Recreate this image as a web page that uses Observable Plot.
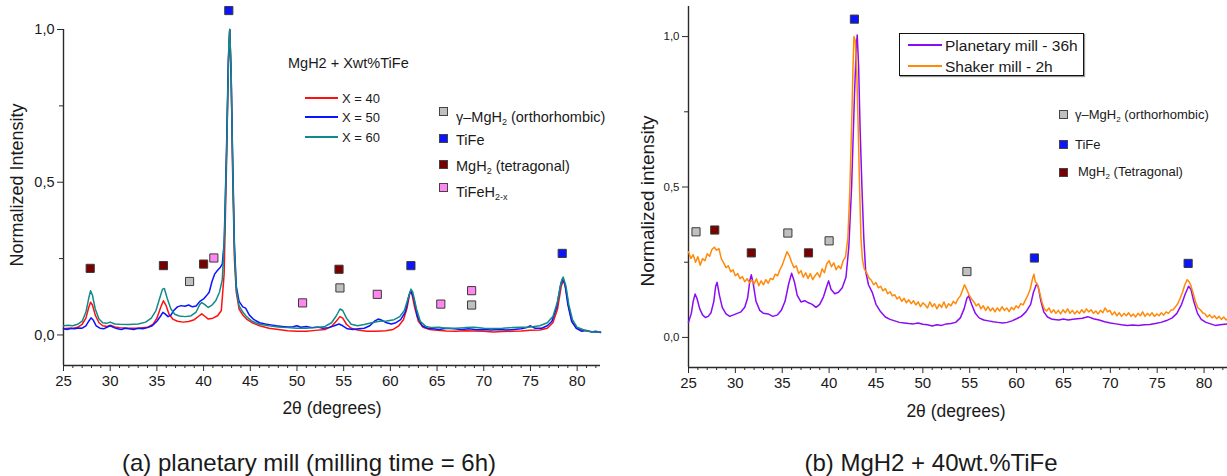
<!DOCTYPE html>
<html>
<head>
<meta charset="utf-8">
<script src="https://cdn.jsdelivr.net/npm/d3@7"></script>
<script src="https://cdn.jsdelivr.net/npm/@observablehq/plot@0.6"></script>
<style>
  body { margin: 0; background: #fff; }
  #wrap { position: relative; width: 1227px; height: 476px; overflow: hidden; font-family: "Liberation Sans", Arial, sans-serif; color: #1a1a1a; }
  .abs { position: absolute; white-space: nowrap; line-height: 1; }
  .sq { position: absolute; width: 7px; height: 7px; border: 1px solid #444; }
  .ln { position: absolute; height: 2px; }
  sub { font-size: 0.62em; vertical-align: -0.35em; line-height: 0; }
</style>
</head>
<body>
<div id="wrap">
  <div id="a" style="position:absolute;left:0;top:0"></div>
  <div id="b" style="position:absolute;left:614px;top:0"></div>
</div>
<script>
// ---------- tick values ----------
const majorX = [25, 30, 35, 40, 45, 50, 55, 60, 65, 70, 75, 80];
const minorX = [26,27,28,29,31,32,33,34,36,37,38,39,41,42,43,44,46,47,48,49,51,52,53,54,56,57,58,59,61,62,63,64,66,67,68,69,71,72,73,74,76,77,78,79,81,82];
const majorY = [0, 0.5, 1.0];
const minorY = [0.25, 0.75];

// ---------- panel (a): MgH2 + X wt% TiFe, planetary mill 6h ----------
const red40 = [[25,0.020],[25.5,0.022],[26,0.021],[26.5,0.025],[27,0.035],[27.4,0.055],[27.7,0.090],[27.9,0.107],[28.1,0.098],[28.4,0.065],[28.8,0.040],[29.2,0.030],[29.7,0.028],[30,0.032],[30.5,0.026],[31,0.024],[32,0.022],[33,0.022],[34,0.025],[34.6,0.035],[35,0.055],[35.4,0.090],[35.7,0.112],[36,0.095],[36.3,0.068],[36.7,0.052],[37.2,0.045],[37.8,0.042],[38.4,0.044],[39,0.050],[39.5,0.062],[39.8,0.069],[40.1,0.062],[40.5,0.052],[41,0.055],[41.5,0.063],[41.9,0.080],[42.2,0.20],[42.45,0.55],[42.65,0.88],[42.8,1.0],[42.95,0.85],[43.1,0.55],[43.3,0.25],[43.5,0.14],[43.8,0.085],[44.2,0.065],[44.6,0.052],[45.2,0.040],[46,0.030],[47,0.022],[48,0.018],[49,0.014],[50,0.012],[51,0.012],[52,0.015],[53,0.018],[53.7,0.028],[54.2,0.045],[54.6,0.060],[54.9,0.055],[55.3,0.035],[55.8,0.022],[56.5,0.016],[57.5,0.012],[58.5,0.012],[59.5,0.014],[60.3,0.018],[60.9,0.030],[61.4,0.050],[61.8,0.090],[62.1,0.140],[62.3,0.135],[62.6,0.090],[63,0.045],[63.5,0.025],[64.2,0.018],[65,0.015],[66,0.013],[67,0.012],[68,0.014],[69,0.013],[70,0.012],[71,0.010],[72,0.011],[73,0.012],[74,0.013],[75,0.015],[76,0.016],[76.8,0.022],[77.4,0.040],[77.9,0.085],[78.3,0.160],[78.55,0.180],[78.8,0.150],[79.1,0.090],[79.5,0.040],[80,0.022],[80.6,0.015],[81.2,0.012],[81.8,0.010],[82.5,0.010]];
const blue50 = [[25,0.020],[25.4,0.018],[25.8,0.022],[26.2,0.020],[26.6,0.023],[27,0.022],[27.4,0.030],[27.7,0.045],[27.95,0.056],[28.2,0.048],[28.5,0.030],[28.9,0.022],[29.3,0.020],[29.7,0.026],[30,0.030],[30.4,0.024],[30.8,0.020],[31.2,0.018],[31.6,0.022],[32,0.020],[32.5,0.018],[33,0.022],[33.5,0.020],[34,0.024],[34.5,0.030],[35,0.045],[35.4,0.062],[35.65,0.074],[35.9,0.068],[36.2,0.060],[36.5,0.065],[36.8,0.080],[37.2,0.092],[37.6,0.096],[38,0.094],[38.4,0.098],[38.8,0.092],[39.2,0.095],[39.6,0.110],[40,0.118],[40.3,0.128],[40.6,0.140],[40.9,0.175],[41.2,0.200],[41.5,0.212],[41.8,0.222],[42,0.232],[42.2,0.30],[42.45,0.60],[42.65,0.90],[42.8,1.0],[42.95,0.85],[43.1,0.60],[43.3,0.30],[43.5,0.16],[43.8,0.110],[44.2,0.092],[44.5,0.088],[44.9,0.065],[45.4,0.050],[46,0.040],[46.6,0.036],[47.2,0.033],[47.8,0.030],[48.4,0.028],[49,0.026],[49.6,0.027],[50,0.030],[50.4,0.025],[51,0.028],[51.6,0.024],[52.2,0.026],[52.8,0.022],[53.4,0.024],[54,0.030],[54.5,0.036],[54.9,0.030],[55.4,0.020],[56,0.018],[56.6,0.020],[57.2,0.022],[57.8,0.030],[58.3,0.045],[58.7,0.052],[59.1,0.048],[59.6,0.040],[60.1,0.036],[60.6,0.040],[61.1,0.050],[61.6,0.075],[62,0.130],[62.2,0.145],[62.5,0.120],[62.9,0.060],[63.4,0.030],[64,0.022],[64.6,0.020],[65.2,0.018],[66,0.022],[66.8,0.020],[67.6,0.018],[68.4,0.020],[69.2,0.017],[70,0.018],[70.8,0.016],[71.6,0.018],[72.4,0.016],[73.2,0.018],[74,0.020],[74.6,0.024],[75,0.030],[75.5,0.022],[76.2,0.022],[76.8,0.030],[77.3,0.045],[77.8,0.090],[78.2,0.160],[78.45,0.185],[78.7,0.165],[79,0.100],[79.4,0.045],[79.9,0.022],[80.5,0.012],[81,0.015],[81.5,0.010],[82,0.012],[82.5,0.008]];
const teal60 = [[25,0.030],[25.5,0.032],[26,0.030],[26.5,0.035],[27,0.045],[27.4,0.075],[27.7,0.120],[27.9,0.145],[28.1,0.130],[28.4,0.085],[28.8,0.052],[29.2,0.040],[29.6,0.038],[30,0.042],[30.5,0.036],[31,0.035],[32,0.034],[33,0.036],[33.8,0.042],[34.4,0.055],[34.9,0.080],[35.3,0.120],[35.6,0.150],[35.8,0.152],[36.1,0.120],[36.5,0.085],[36.9,0.068],[37.4,0.062],[38,0.060],[38.6,0.062],[39.2,0.075],[39.6,0.100],[39.8,0.106],[40.1,0.100],[40.5,0.090],[40.9,0.098],[41.3,0.112],[41.7,0.140],[42,0.180],[42.25,0.33],[42.5,0.65],[42.7,0.95],[42.8,1.0],[42.95,0.86],[43.1,0.58],[43.3,0.28],[43.5,0.15],[43.8,0.095],[44.2,0.075],[44.6,0.060],[45.2,0.045],[46,0.035],[47,0.030],[48,0.026],[49,0.024],[50,0.022],[51,0.022],[52,0.024],[53,0.028],[53.7,0.040],[54.2,0.062],[54.6,0.085],[54.9,0.080],[55.3,0.055],[55.8,0.035],[56.5,0.030],[57.2,0.034],[58,0.040],[58.8,0.045],[59.6,0.046],[60.4,0.050],[61,0.060],[61.5,0.080],[61.9,0.120],[62.2,0.150],[62.4,0.140],[62.8,0.085],[63.2,0.045],[63.8,0.028],[64.5,0.024],[65.2,0.025],[66,0.022],[67,0.022],[68,0.024],[69,0.025],[70,0.022],[71,0.021],[72,0.022],[73,0.024],[74,0.025],[75,0.026],[76,0.030],[76.8,0.040],[77.4,0.060],[77.9,0.110],[78.3,0.175],[78.5,0.190],[78.8,0.160],[79.1,0.100],[79.5,0.050],[80,0.025],[80.6,0.018],[81.2,0.012],[81.8,0.010],[82.5,0.010]];

const aGamma = [[38.5,0.175],[54.6,0.154],[68.7,0.098]];
const aTiFe = [[42.7,1.062],[62.2,0.227],[78.4,0.267]];
const aMgH2 = [[27.86,0.218],[35.7,0.227],[40.0,0.232],[54.5,0.215]];
const aTiFeH = [[41.1,0.252],[50.6,0.105],[58.6,0.133],[65.4,0.101],[68.7,0.145]];

// ---------- panel (b): MgH2 + 40 wt.% TiFe ----------
const planetary36h = [[25,0.050],[25.3,0.080],[25.5,0.120],[25.7,0.144],[25.9,0.130],[26.2,0.095],[26.5,0.075],[26.8,0.066],[27.1,0.070],[27.4,0.082],[27.7,0.120],[27.9,0.170],[28.05,0.183],[28.3,0.140],[28.6,0.100],[29,0.078],[29.4,0.070],[29.8,0.075],[30.2,0.080],[30.6,0.085],[31,0.100],[31.3,0.130],[31.55,0.190],[31.7,0.208],[31.9,0.180],[32.2,0.120],[32.6,0.090],[33,0.080],[33.5,0.078],[34,0.070],[34.5,0.075],[34.9,0.090],[35.3,0.120],[35.7,0.180],[36,0.213],[36.3,0.185],[36.6,0.140],[37,0.118],[37.4,0.122],[37.8,0.115],[38.2,0.110],[38.6,0.100],[39,0.110],[39.4,0.135],[39.7,0.165],[39.95,0.188],[40.2,0.160],[40.6,0.145],[41,0.150],[41.4,0.165],[41.8,0.200],[42.1,0.30],[42.4,0.50],[42.7,0.80],[42.9,0.97],[43,1.005],[43.15,0.90],[43.3,0.70],[43.5,0.50],[43.7,0.33],[43.9,0.22],[44.2,0.175],[44.6,0.150],[45,0.110],[45.5,0.085],[46,0.068],[46.5,0.060],[47,0.055],[47.5,0.050],[48,0.048],[48.5,0.046],[49,0.045],[49.5,0.048],[50,0.044],[50.5,0.042],[51,0.038],[51.5,0.042],[52,0.040],[52.5,0.045],[53,0.046],[53.5,0.050],[54,0.065],[54.4,0.095],[54.7,0.130],[54.9,0.138],[55.2,0.110],[55.6,0.080],[56,0.065],[56.5,0.058],[57,0.055],[57.5,0.052],[58,0.050],[58.5,0.048],[59,0.050],[59.5,0.055],[60,0.062],[60.5,0.070],[61,0.085],[61.5,0.110],[61.8,0.150],[62.1,0.175],[62.3,0.170],[62.6,0.120],[62.9,0.085],[63.3,0.068],[63.8,0.060],[64.5,0.058],[65,0.061],[65.5,0.058],[66,0.060],[66.5,0.062],[67,0.064],[67.6,0.069],[68.2,0.062],[68.8,0.058],[69.4,0.052],[70,0.048],[70.6,0.045],[71.2,0.042],[71.8,0.040],[72.4,0.041],[73,0.040],[73.6,0.042],[74.2,0.043],[74.8,0.046],[75.4,0.050],[76,0.056],[76.6,0.065],[77.1,0.080],[77.6,0.110],[78,0.145],[78.35,0.170],[78.6,0.160],[78.9,0.120],[79.3,0.080],[79.7,0.060],[80.2,0.050],[80.7,0.045],[81.2,0.040],[81.7,0.042],[82.2,0.044],[82.5,0.045]];
const shaker2h = [[25,0.285],[25.25,0.262],[25.5,0.275],[25.75,0.250],[26,0.268],[26.25,0.240],[26.5,0.262],[26.75,0.255],[27,0.278],[27.25,0.270],[27.5,0.292],[27.75,0.300],[28,0.290],[28.25,0.295],[28.5,0.262],[28.75,0.248],[29,0.232],[29.25,0.238],[29.5,0.218],[29.75,0.225],[30,0.205],[30.25,0.212],[30.5,0.195],[30.75,0.202],[31,0.185],[31.25,0.195],[31.5,0.182],[31.75,0.190],[32,0.178],[32.25,0.195],[32.5,0.172],[32.75,0.188],[33,0.175],[33.25,0.192],[33.5,0.180],[33.75,0.196],[34,0.192],[34.25,0.210],[34.5,0.205],[34.75,0.225],[35,0.240],[35.25,0.262],[35.5,0.285],[35.75,0.272],[36,0.250],[36.25,0.232],[36.5,0.238],[36.75,0.212],[37,0.222],[37.25,0.200],[37.5,0.215],[37.75,0.196],[38,0.212],[38.25,0.192],[38.5,0.205],[38.75,0.215],[39,0.200],[39.25,0.228],[39.5,0.215],[39.75,0.245],[40,0.255],[40.25,0.235],[40.5,0.248],[40.75,0.225],[41,0.238],[41.25,0.228],[41.5,0.255],[41.75,0.268],[42,0.330],[42.2,0.480],[42.4,0.700],[42.55,0.900],[42.65,1.000],[42.8,0.985],[42.95,0.880],[43.1,0.700],[43.25,0.500],[43.4,0.330],[43.55,0.260],[43.75,0.228],[44,0.215],[44.25,0.198],[44.5,0.190],[44.75,0.175],[45,0.182],[45.25,0.165],[45.5,0.170],[45.75,0.155],[46,0.162],[46.25,0.145],[46.5,0.152],[46.75,0.138],[47,0.142],[47.25,0.128],[47.5,0.135],[47.75,0.120],[48,0.130],[48.25,0.115],[48.5,0.125],[48.75,0.112],[49,0.122],[49.25,0.108],[49.5,0.118],[49.75,0.102],[50,0.115],[50.25,0.108],[50.5,0.098],[50.75,0.118],[51,0.102],[51.25,0.112],[51.5,0.095],[51.75,0.110],[52,0.100],[52.25,0.118],[52.5,0.098],[52.75,0.112],[53,0.105],[53.25,0.120],[53.5,0.112],[53.75,0.128],[54,0.138],[54.25,0.158],[54.45,0.175],[54.7,0.158],[54.95,0.140],[55.2,0.128],[55.45,0.118],[55.7,0.105],[55.95,0.112],[56.2,0.095],[56.45,0.105],[56.7,0.090],[56.95,0.102],[57.2,0.088],[57.45,0.098],[57.7,0.085],[57.95,0.098],[58.2,0.088],[58.45,0.102],[58.7,0.090],[58.95,0.098],[59.2,0.086],[59.45,0.100],[59.7,0.092],[59.95,0.105],[60.2,0.098],[60.45,0.112],[60.7,0.108],[60.95,0.125],[61.2,0.140],[61.45,0.160],[61.7,0.195],[61.85,0.210],[62,0.185],[62.2,0.178],[62.45,0.150],[62.7,0.118],[62.95,0.095],[63.2,0.088],[63.45,0.098],[63.7,0.082],[63.95,0.092],[64.2,0.080],[64.45,0.090],[64.7,0.078],[64.95,0.092],[65.2,0.082],[65.45,0.095],[65.7,0.080],[65.95,0.090],[66.2,0.078],[66.45,0.088],[66.7,0.080],[66.95,0.092],[67.2,0.082],[67.45,0.095],[67.7,0.085],[67.95,0.092],[68.2,0.080],[68.45,0.088],[68.7,0.078],[68.95,0.090],[69.2,0.082],[69.45,0.098],[69.7,0.085],[69.95,0.090],[70.2,0.075],[70.45,0.085],[70.7,0.072],[70.95,0.082],[71.2,0.070],[71.45,0.080],[71.7,0.072],[71.95,0.082],[72.2,0.070],[72.45,0.078],[72.7,0.068],[72.95,0.080],[73.2,0.072],[73.45,0.085],[73.7,0.070],[73.95,0.080],[74.2,0.072],[74.45,0.082],[74.7,0.070],[74.95,0.078],[75.2,0.072],[75.45,0.082],[75.7,0.074],[75.95,0.085],[76.2,0.080],[76.45,0.090],[76.7,0.092],[76.95,0.102],[77.2,0.112],[77.45,0.130],[77.7,0.150],[77.95,0.175],[78.2,0.192],[78.4,0.185],[78.6,0.172],[78.85,0.145],[79.1,0.118],[79.35,0.098],[79.6,0.092],[79.85,0.082],[80.1,0.078],[80.35,0.068],[80.6,0.075],[80.85,0.065],[81.1,0.072],[81.35,0.062],[81.6,0.070],[81.85,0.060],[82.1,0.068],[82.35,0.058],[82.5,0.062]];

const bGamma = [[25.8,0.351],[35.6,0.347],[40.0,0.321],[54.7,0.219]];
const bMgH2 = [[27.8,0.357],[31.7,0.281],[37.8,0.281]];
const bTiFe = [[42.7,1.058],[61.9,0.264],[78.3,0.246]];

// ---------- colours ----------
const C = {red: "#ff1010", blue: "#0a14ff", teal: "#128a86", purple: "#8a0cf5", orange: "#ff8a0a",
           gray: "#c0c0c0", tife: "#0a14ff", maroon: "#7a0000", pink: "#ff88f0"};

const comma = d => d3.format(".1f")(d).replace(".", ",");
const X = d => d[0], Y = d => d[1];
const sq = (data, fill) => Plot.dot(data, {x: X, y: Y, symbol: "square", r: 4.6, fill, stroke: "#3a3a3a", strokeWidth: 1});

function frame(yTop, ySize) {
  return [
    Plot.ruleX([25], {y1: -0.1, y2: yTop, stroke: "#2a2a2a", strokeWidth: 1.4}),
    Plot.ruleY([-0.1], {x1: 25, x2: 82.5, stroke: "#2a2a2a", strokeWidth: 1.4}),
    Plot.axisX({ticks: majorX, tickSize: 6, tickPadding: 4, tickFormat: d => String(d), fontSize: 15, label: null, stroke: "#2a2a2a"}),
    Plot.axisX({ticks: minorX, tickSize: 3, tickFormat: () => "", label: null, stroke: "#2a2a2a"}),
    Plot.axisY({ticks: majorY, tickSize: 6, tickPadding: 3, tickFormat: comma, fontSize: ySize, label: null, stroke: "#2a2a2a"}),
    Plot.axisY({ticks: minorY, tickSize: 4, tickFormat: () => "", label: null, stroke: "#2a2a2a"})
  ];
}

const plotA = Plot.plot({
  width: 613, height: 430,
  marginLeft: 63, marginRight: 13, marginTop: 29, marginBottom: 65,
  x: {domain: [25, 82.5]},
  y: {domain: [-0.1, 1.0]},
  style: {fontFamily: "'Liberation Sans', Arial, sans-serif", background: "transparent", color: "#1a1a1a", overflow: "visible"},
  marks: [
    ...frame(1.0, 14.5),
    Plot.line(red40, {x: X, y: Y, stroke: C.red, strokeWidth: 1.5}),
    Plot.line(blue50, {x: X, y: Y, stroke: C.blue, strokeWidth: 1.5}),
    Plot.line(teal60, {x: X, y: Y, stroke: C.teal, strokeWidth: 1.5}),
    sq(aGamma, C.gray), sq(aTiFe, C.tife), sq(aMgH2, C.maroon), sq(aTiFeH, C.pink)
  ]
});
document.getElementById("a").append(plotA);

const plotB = Plot.plot({
  width: 613, height: 430,
  marginLeft: 74, marginRight: 0, marginTop: 6, marginBottom: 63,
  x: {domain: [25, 82.5]},
  y: {domain: [-0.1, 1.1]},
  style: {fontFamily: "'Liberation Sans', Arial, sans-serif", background: "transparent", color: "#1a1a1a", overflow: "visible"},
  marks: [
    ...frame(1.1, 11.5),
    Plot.line(planetary36h, {x: X, y: Y, stroke: C.purple, strokeWidth: 1.5}),
    Plot.line(shaker2h, {x: X, y: Y, stroke: C.orange, strokeWidth: 1.5}),
    sq(bGamma, C.gray), sq(bMgH2, C.maroon), sq(bTiFe, C.tife)
  ]
});
document.getElementById("b").append(plotB);

// ---------- annotations (titles, legends, captions) ----------
const wrap = document.getElementById("wrap");
function txt(x, base, fs, html, opts = {}) {
  const d = document.createElement("div");
  d.className = "abs";
  d.style.left = x + "px";
  d.style.top = (base - 0.85 * fs) + "px";
  d.style.fontSize = fs + "px";
  d.innerHTML = html;
  Object.assign(d.style, opts);
  wrap.append(d);
  return d;
}
function centered(cx, cy, fs, html, rotate = 0) {
  const d = document.createElement("div");
  d.className = "abs";
  d.style.left = cx + "px";
  d.style.top = cy + "px";
  d.style.fontSize = fs + "px";
  d.style.transform = `translate(-50%,-50%) rotate(${rotate}deg)`;
  d.innerHTML = html;
  wrap.append(d);
}
function square(cx, cy, fill) {
  const d = document.createElement("div");
  d.className = "sq";
  d.style.left = (cx - 4.5) + "px";
  d.style.top = (cy - 4.5) + "px";
  d.style.background = fill;
  wrap.append(d);
}
function legLine(x1, x2, y, color) {
  const d = document.createElement("div");
  d.className = "ln";
  d.style.left = x1 + "px";
  d.style.width = (x2 - x1) + "px";
  d.style.top = (y - 1) + "px";
  d.style.background = color;
  wrap.append(d);
}

// axis titles
centered(17, 185, 18, "Normalized Intensity", -90);
centered(647, 201, 19, "Normalized intensity", -90);
centered(332, 409, 17.5, "2θ (degrees)");
centered(956, 412, 17.5, "2θ (degrees)");
// captions
centered(309, 463, 24, "(a) planetary mill (milling time = 6h)");
centered(931, 463, 24, "(b) MgH2 + 40wt.%TiFe");

// panel (a) legend
txt(288, 68, 14.5, "MgH2 + Xwt%TiFe");
const aSeries = [["X = 40", C.red, 98, 103], ["X = 50", C.blue, 117, 122.5], ["X = 60", C.teal, 137, 142]];
aSeries.forEach(([lab, col, ly, base]) => { legLine(305, 338, ly, col); txt(342, base, 13, lab); });
const aPhases = [["γ–MgH<sub>2</sub> (orthorhombic)", C.gray, 111, 122], ["TiFe", C.tife, 138, 145], ["MgH<sub>2</sub> (tetragonal)", C.maroon, 164, 171], ["TiFeH<sub>2-x</sub>", C.pink, 187.5, 197]];
aPhases.forEach(([lab, col, sy, base]) => { square(443.5, sy, col); txt(456, base, 14.5, lab); });

// panel (b) legend box
const box = document.createElement("div");
Object.assign(box.style, {position: "absolute", left: "899px", top: "33px", width: "183px", height: "41px", border: "1px solid #111", boxShadow: "1px 1px 1px #999"});
wrap.append(box);
legLine(908, 942, 45, C.purple);
legLine(908, 942, 66, C.orange);
txt(945, 51.5, 15.5, "Planetary mill - 36h");
txt(945, 72, 15.5, "Shaker mill - 2h");
const bPhases = [["γ–MgH<sub>2</sub> (orthorhombic)", C.gray, 114, 119.5, 1075], ["TiFe", C.tife, 144, 149, 1075], ["MgH<sub>2</sub> (Tetragonal)", C.maroon, 172.5, 176.5, 1078]];
bPhases.forEach(([lab, col, sy, base, tx]) => { square(1063, sy, col); txt(tx, base, 13, lab); });
</script>
</body>
</html>
